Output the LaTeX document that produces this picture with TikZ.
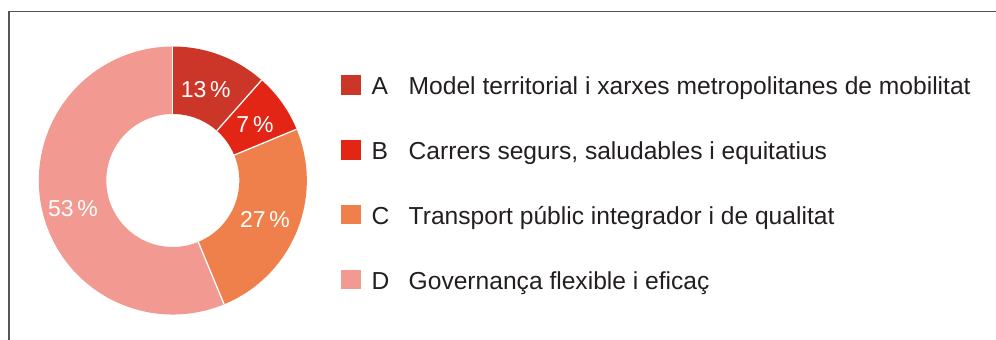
\documentclass[tikz,border=0pt]{standalone}
\usepackage{fontspec}
\setmainfont{Liberation Sans}
\definecolor{segA}{RGB}{204,54,41}
\definecolor{segB}{RGB}{227,37,22}
\definecolor{segC}{RGB}{239,128,75}
\definecolor{segD}{RGB}{242,154,146}
\definecolor{framecol}{RGB}{85,85,85}
\definecolor{txt}{RGB}{35,31,32}
\tikzset{
  pct/.style={text=white, font=\fontsize{23}{25}\selectfont, inner sep=0pt},
  sq/.style={minimum size=19.5pt, inner sep=0pt, outer sep=0pt},
  legletter/.style={text=txt, font=\fontsize{24.6}{26}\selectfont, inner sep=0pt, anchor=base west},
  legtext/.style={text=txt, font=\fontsize{24.6}{26}\selectfont, inner sep=0pt, anchor=base west},
  sep/.style={white, line width=1.3pt}
}
\begin{document}
\begin{tikzpicture}[x=1pt,y=1pt]
\useasboundingbox (0,0) rectangle (996,-340);
\draw[framecol, line width=1.2pt] (9,-340) -- (9,-11.7) -- (996,-11.7);
\begin{scope}[shift={(172.8,-180.5)}]
  \def\ro{134}\def\ri{66.5}
  \fill[segA] (90:\ro) arc[start angle=90, end angle=48.5, radius=\ro] -- (48.5:\ri) arc[start angle=48.5, end angle=90, radius=\ri] -- cycle;
  \fill[segB] (48.5:\ro) arc[start angle=48.5, end angle=22.5, radius=\ro] -- (22.5:\ri) arc[start angle=22.5, end angle=48.5, radius=\ri] -- cycle;
  \fill[segC] (22.5:\ro) arc[start angle=22.5, end angle=-67.5, radius=\ro] -- (-67.5:\ri) arc[start angle=-67.5, end angle=22.5, radius=\ri] -- cycle;
  \fill[segD] (-67.5:\ro) arc[start angle=-67.5, end angle=-270, radius=\ro] -- (90:\ri) arc[start angle=90, end angle=292.5, radius=\ri] -- cycle;
  \draw[sep] (90:\ri) -- (90:\ro);
  \draw[sep] (48.5:\ri) -- (48.5:\ro);
  \draw[sep] (22.5:\ri) -- (22.5:\ro);
  \draw[sep] (-67.5:\ri) -- (-67.5:\ro);
\end{scope}
\node[pct] (pA) at (205.7,-89.5) {13\,\%};
\node[pct] (pB) at (255,-125) {7\,\%};
\node[pct] (pC) at (265,-220) {27\,\%};
\node[pct] (pD) at (73,-209) {53\,\%};

\node[sq, fill=segA] (sqA) at (351,-84.8) {};
\node[legletter] (lA) at (371.5,-94.3) {A};
\node[legtext] (tA) at (408.5,-94.3) {Model territorial i xarxes metropolitanes de mobilitat};
\node[sq, fill=segB] (sqB) at (351,-149.8) {};
\node[legletter] (lB) at (371.5,-159.3) {B};
\node[legtext] (tB) at (408.5,-159.3) {Carrers segurs, saludables i equitatius};
\node[sq, fill=segC] (sqC) at (351,-214.5) {};
\node[legletter] (lC) at (371.5,-224) {C};
\node[legtext] (tC) at (408.5,-224) {Transport públic integrador i de qualitat};
\node[sq, fill=segD] (sqD) at (351,-279.5) {};
\node[legletter] (lD) at (371.5,-289) {D};
\node[legtext] (tD) at (408.5,-289) {Governança flexible i eficaç};
\end{tikzpicture}
\end{document}
